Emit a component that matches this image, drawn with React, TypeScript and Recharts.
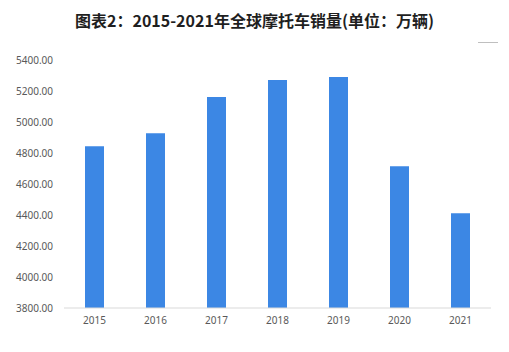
import { BarChart, Bar, XAxis, YAxis } from "recharts";

const years = ["2015", "2016", "2017", "2018", "2019", "2020", "2021"];
const sales = [4843, 4928, 5161, 5271, 5290, 4715, 4412];
const yTicks = [3800, 4000, 4200, 4400, 4600, 4800, 5000, 5200, 5400];

const data = years.map((y, i) => ({ year: y, value: sales[i] }));

export default function App() {
    return (
        <div style={{ position: "absolute", left: 0, top: 0, width: 509, height: 352, background: "#fff", fontFamily: "'Noto Sans', 'Noto Sans CJK SC', sans-serif" }}>
            {/* 标题 */}
            <div style={{ position: "absolute", top: 9, left: 0, width: 509, textAlign: "center", fontSize: 16, fontWeight: 700, color: "#1f1f1f", fontFamily: "'Noto Sans CJK SC', sans-serif", lineHeight: "22px" }}>
                图表2：2015-2021年全球摩托车销量(单位：万辆)
            </div>
            <div style={{ position: "absolute", top: 42, left: 478, width: 20, height: 1, background: "#bfbfbf" }} />
            <BarChart width={509} height={352} data={data} margin={{ top: 60, right: 18, left: 0, bottom: 14 }}>
                <XAxis
                    dataKey="year"
                    axisLine={{ stroke: "#d9d9d9" }}
                    tickLine={false}
                    tickSize={0}
                    tickMargin={9}
                    height={30}
                    tick={{ fill: "#595959", fontSize: 10 }}
                />
                <YAxis
                    domain={[3800, 5400]}
                    ticks={yTicks}
                    axisLine={false}
                    tickLine={false}
                    tickSize={0}
                    tickMargin={11}
                    width={64}
                    interval={0}
                    tick={{ fill: "#595959", fontSize: 10 }}
                    tickFormatter={(v) => Number(v).toFixed(2)}
                />
                <Bar dataKey="value" fill="#3c87e4" barSize={19} isAnimationActive={false} />
            </BarChart>
        </div>
    );
}
